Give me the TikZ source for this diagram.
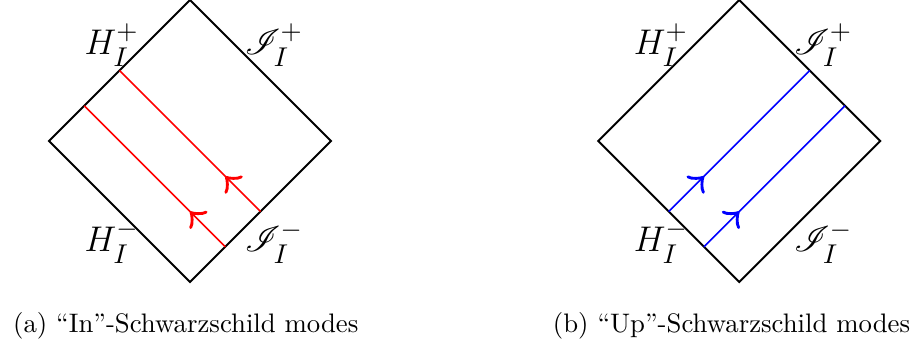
\documentclass[11pt,tikz,border=0pt]{standalone}
\usepackage{amsmath,mathrsfs}
\usetikzlibrary{calc,decorations.markings}

\begin{document}
\begin{tikzpicture}[
    edge/.style={line width=0.8pt},
    inmode/.style={red,line width=0.6pt},
    upmode/.style={blue,line width=0.6pt},
    flow/.style={postaction={decorate},
      decoration={markings,mark=at position 0.25 with {\arrow[scale=2.4]{>}}}},
    lbl/.style={inner sep=0pt,font=\fontsize{15.8}{18}\selectfont},
    captext/.style={font=\fontsize{10.8}{13}\selectfont}
  ]
  \useasboundingbox (-2.695,-2.894) rectangle (10.24,2.0);

  % Diagrama (a): modos "in"
  \coordinate (Ta) at (0,2);
  \coordinate (La) at (-2,0);
  \coordinate (Ra) at (2,0);
  \coordinate (Ba) at (0,-2);
  \draw[edge] (Ta) -- (Ra) -- (Ba) -- (La) -- cycle;

  % Rayos entrantes desde scri^-
  \coordinate (a1) at ($(Ba)!0.5!(Ra)$);
  \coordinate (a2) at ($(Ba)!0.25!(Ra)$);
  \coordinate (b1) at ($(La)!0.5!(Ta)$);
  \coordinate (b2) at ($(La)!0.25!(Ta)$);
  \draw[inmode,flow] (a1) -- (b1);
  \draw[inmode,flow] (a2) -- (b2);

  \node[lbl] (Hpa) at (-1.11,1.36) {$H_I^+$};
  \node[lbl] (Spa) at (1.19,1.36) {$\mathscr{I}_I^+$};
  \node[lbl] (Hma) at (-1.11,-1.43) {$H_I^-$};
  \node[lbl] (Sma) at (1.19,-1.44) {$\mathscr{I}_I^-$};

  \node[captext] (capa) at (-0.06,-2.62) {(a) ``In''-Schwarzschild modes};

  % Diagrama (b): modos "up"
  \def\sep{7.79}
  \begin{scope}[xshift=\sep cm]
    \coordinate (Tb) at (0,2);
    \coordinate (Lb) at (-2,0);
    \coordinate (Rb) at (2,0);
    \coordinate (Bb) at (0,-2);
    \draw[edge] (Tb) -- (Rb) -- (Bb) -- (Lb) -- cycle;

    % Rayos salientes desde H^-
    \coordinate (c1) at ($(Bb)!0.5!(Lb)$);
    \coordinate (c2) at ($(Bb)!0.25!(Lb)$);
    \coordinate (d1) at ($(Rb)!0.5!(Tb)$);
    \coordinate (d2) at ($(Rb)!0.25!(Tb)$);
    \draw[upmode,flow] (c1) -- (d1);
    \draw[upmode,flow] (c2) -- (d2);

    \node[lbl] (Hpb) at (-1.11,1.36) {$H_I^+$};
    \node[lbl] (Spb) at (1.19,1.36) {$\mathscr{I}_I^+$};
    \node[lbl] (Hmb) at (-1.11,-1.43) {$H_I^-$};
    \node[lbl] (Smb) at (1.19,-1.44) {$\mathscr{I}_I^-$};

    \node[captext] (capb) at (-0.11,-2.62) {(b) ``Up''-Schwarzschild modes};
  \end{scope}
\end{tikzpicture}
\end{document}
